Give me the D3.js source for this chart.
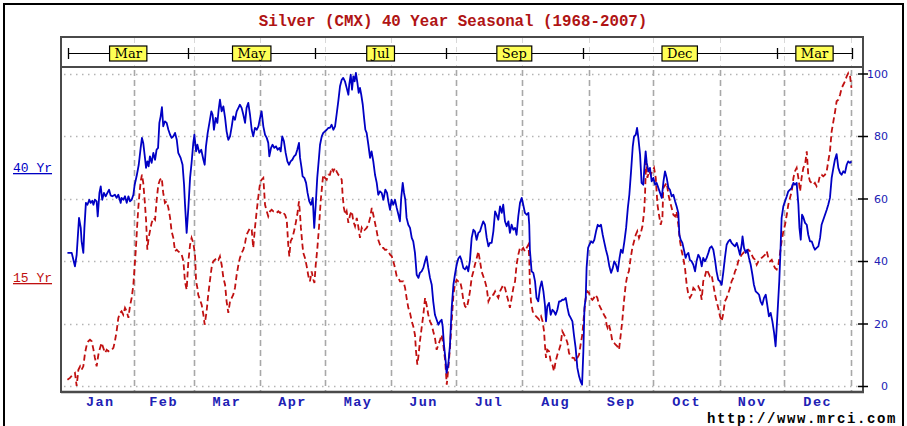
<!DOCTYPE html>
<html>
<head>
<meta charset="utf-8">
<script src="https://cdn.jsdelivr.net/npm/d3@7"></script>
<style>
  html, body { margin: 0; padding: 0; background: #fff; }
  svg { display: block; }
</style>
</head>
<body>
<svg id="chart" width="907" height="426"></svg>
<script>
// ---- data -------------------------------------------------------------
const chartTitle = "Silver (CMX) 40 Year Seasonal (1968-2007)";
const sourceText = "http://www.mrci.com";
const seriesNames = ["40 Yr", "15 Yr"];
const yTicks = [0, 20, 40, 60, 80, 100];
const monthNames = ["Jan","Feb","Mar","Apr","May","Jun","Jul","Aug","Sep","Oct","Nov","Dec"];

// contract periods shown in the strip above the plot: boundaries (day of year) and labels
const contractBounds = [0.5, 56.5, 115.5, 176.5, 240, 330.5, 365.5];
const contractLabels = ["Mar", "May", "Jul", "Sep", "Dec", "Mar"];

// 40 year seasonal index: [day of year, index value]
const seasonal40 = [
[0.2,42.6],[2.2,42.6],[3.7,38.3],[4.5,42.0],[5.6,53.8],[6.4,50.6],[6.8,46.3],[7.6,42.6],[8.1,50.6],[8.8,58.6],[9.5,58.0],[10.4,59.6],[11.0,58.6],[11.8,59.3],[12.3,58.0],[13.0,59.6],[13.8,59.1],[14.3,54.3],[15.1,61.8],[15.7,63.9],[16.4,59.6],[17.2,61.8],[18.0,60.7],[18.8,61.8],[19.6,62.8],[20.3,61.0],[21.1,60.7],[22.3,61.2],[23.1,60.2],[23.9,61.2],[25.0,58.6],[25.4,60.2],[26.2,59.6],[27.0,60.7],[27.8,58.6],[28.6,60.7],[29.3,59.1],[30.1,59.6],[30.9,61.2],[31.5,64.4],[32.4,67.1],[33.4,70.8],[34.3,76.2],[34.9,79.4],[35.5,77.8],[36.3,73.0],[36.8,69.8],[37.4,71.9],[38.0,70.3],[38.6,73.5],[39.4,71.4],[40.2,74.6],[41.0,72.4],[41.7,75.6],[42.4,76.2],[43.0,84.2],[43.6,86.3],[44.2,89.2],[44.8,83.1],[45.6,84.7],[46.4,84.2],[47.2,82.0],[48.0,80.4],[48.7,79.4],[49.5,79.9],[50.3,81.0],[51.1,78.8],[51.8,74.6],[52.9,73.0],[53.8,70.8],[54.5,64.4],[54.9,58.6],[55.7,49.0],[56.5,57.0],[57.3,66.6],[58.0,71.4],[58.8,77.8],[59.3,80.4],[60.1,75.1],[60.7,77.2],[61.6,74.6],[62.5,75.6],[63.5,72.4],[64.1,70.8],[64.7,76.7],[65.5,81.0],[66.3,84.2],[67.2,87.9],[67.8,86.8],[68.4,82.0],[69.2,85.8],[70.0,84.2],[70.6,88.4],[71.2,91.6],[72.0,87.9],[72.8,89.5],[73.6,85.8],[74.3,81.5],[75.1,78.8],[75.9,79.9],[76.7,83.1],[77.4,86.3],[78.2,85.2],[79.0,87.9],[79.8,89.0],[80.5,90.0],[81.3,89.0],[82.1,86.8],[82.9,84.2],[83.6,89.0],[84.4,90.6],[85.2,86.8],[86.0,82.0],[86.7,79.9],[87.5,82.6],[88.3,82.0],[89.1,83.1],[89.9,85.8],
[90.6,87.9],[91.4,83.1],[92.2,80.4],[93.0,79.4],[93.7,77.8],[94.2,73.5],[95.0,76.2],[95.7,77.2],[96.5,76.2],[97.3,76.7],[98.1,75.6],[98.9,76.2],[99.5,75.1],[100.2,79.9],[101.0,78.3],[101.8,74.6],[102.6,71.9],[103.4,70.8],[104.1,71.9],[104.9,72.4],[105.7,73.5],[106.5,74.0],[107.2,75.6],[108.0,77.8],[108.5,73.0],[109.2,69.8],[109.7,67.1],[110.5,66.6],[111.3,65.0],[112.0,61.8],[112.8,59.1],[113.6,58.0],[114.4,60.2],[115.1,50.6],[115.8,58.0],[116.5,66.6],[117.3,73.0],[117.8,77.2],[118.6,79.9],[119.3,81.0],[120.1,81.5],[120.9,82.0],[121.7,82.6],[122.4,82.6],[123.2,83.6],[124.0,82.0],[124.8,83.1],[125.5,86.8],[126.3,91.1],[127.1,95.9],[127.9,98.0],[128.6,98.6],[129.4,97.5],[130.2,95.4],[131.0,93.2],[131.4,96.4],[132.1,99.6],[132.7,94.8],[133.3,99.1],[133.9,97.5],[134.5,100.2],[135.2,97.0],[135.8,93.8],[136.4,95.4],[137.0,93.2],[137.7,90.0],[138.3,85.8],[138.9,82.0],[139.5,81.0],[140.3,77.2],[141.1,73.0],[141.8,75.1],[142.6,71.9],[143.4,67.6],[144.2,65.0],[144.9,61.2],[145.7,62.3],[146.5,61.8],[147.3,59.6],[148.2,62.8],[149.0,61.8],[149.6,59.1],[150.4,56.4],[151.1,59.6],[151.9,58.0],[152.7,59.6],[153.5,57.0],[154.3,54.8],[155.0,52.7],[155.6,60.2],[156.3,65.0],[156.9,61.8],[157.5,59.6],[158.1,53.8],[158.9,51.6],[159.7,50.6],[160.5,47.4],[161.2,46.3],[162.0,42.6],[162.8,35.6],[163.6,34.6],[164.3,36.2],[165.1,36.7],[165.9,37.8],[166.7,39.9],[167.4,41.5],[168.2,37.8],[169.0,34.6],[169.8,32.4],[170.5,27.1],[171.3,22.8],[172.1,21.2],[172.9,19.6],[173.7,20.7],[174.4,21.2],[174.9,19.1],[175.5,13.2],[176.3,7.9],[176.7,4.2],[177.5,6.8],[178.3,13.2],[179.1,25.0],[179.9,32.4],[180.6,35.6],[181.4,38.8],[182.2,40.8],[183.0,41.5],[183.7,40.2],[184.5,37.8],
[185.3,37.3],[186.1,38.3],[186.8,36.7],[187.6,40.3],[188.4,47.4],[189.2,50.0],[189.9,49.5],[190.7,46.8],[191.5,49.0],[192.3,49.5],[193.0,51.1],[193.8,52.7],[194.6,51.6],[195.4,47.4],[196.2,44.7],[196.9,45.8],[197.7,45.8],[198.5,49.5],[199.3,55.9],[200.0,54.8],[200.8,53.2],[201.6,57.5],[202.4,55.4],[203.1,58.0],[203.9,52.7],[204.7,51.1],[205.5,52.7],[206.2,49.0],[207.0,51.6],[207.8,50.0],[208.6,50.6],[209.3,48.4],[210.1,54.3],[210.9,58.6],[211.7,60.2],[212.4,58.0],[213.2,55.4],[214.0,54.8],[214.8,55.4],[215.2,51.6],[215.5,43.6],[216.3,36.7],[217.1,36.2],[217.9,33.5],[218.6,28.2],[219.4,27.1],[220.2,31.4],[221.0,33.5],[221.8,30.3],[222.5,26.0],[223.0,20.7],[223.6,25.5],[224.4,26.6],[225.2,22.8],[226.0,24.4],[226.7,23.9],[227.5,22.8],[228.3,24.4],[229.1,27.1],[229.8,27.1],[230.6,27.6],[231.4,27.6],[232.2,28.2],[233.0,25.0],[233.7,22.8],[234.5,21.8],[235.3,20.7],[236.0,16.4],[236.8,12.2],[237.6,5.8],[238.4,3.1],[239.1,1.5],[239.8,0.4],[240.4,11.1],[240.9,25.0],[241.5,28.2],[241.9,37.8],[242.6,44.2],[243.2,45.2],[244.0,46.3],[244.8,45.8],[245.5,46.8],[246.3,49.5],[247.1,51.6],[247.8,51.1],[248.6,51.6],[249.4,48.4],[250.2,45.8],[250.9,43.6],[251.7,41.5],[252.5,38.3],[253.3,36.2],[254.1,37.8],[254.8,39.9],[255.6,38.8],[256.4,36.7],[257.2,40.8],[257.9,43.6],[258.7,42.6],[259.5,46.3],[260.3,50.6],[261.1,56.9],[261.8,61.2],[262.6,68.7],[263.4,76.7],[264.0,79.9],[264.8,80.4],[265.4,82.6],[266.0,79.4],[266.8,74.0],[267.5,65.0],[268.3,64.4],[268.8,69.8],[269.4,75.1],[269.9,71.4],[270.7,68.7],[271.4,69.8],[272.2,65.5],[273.0,66.6],[273.8,64.4],[274.5,65.0],[275.3,63.4],[276.1,61.8],[276.9,60.2],[277.7,65.5],
[278.4,68.7],[279.2,66.6],[280.0,63.4],[280.7,62.8],[281.5,60.7],[282.3,61.2],[283.1,59.1],[283.8,57.5],[284.6,55.4],[285.1,48.4],[285.7,46.8],[286.5,45.8],[287.2,43.6],[288.0,41.0],[288.5,42.0],[289.3,42.6],[290.0,40.3],[290.8,39.9],[291.6,38.8],[292.4,36.7],[293.1,39.9],[293.9,42.0],[294.7,41.0],[295.5,38.3],[296.2,41.0],[297.0,39.9],[297.8,41.0],[298.6,42.6],[299.3,44.2],[300.1,44.7],[300.9,43.6],[301.7,40.3],[302.4,36.7],[303.2,34.0],[304.0,33.5],[304.8,32.4],[305.6,36.7],[306.3,41.0],[307.1,45.2],[307.9,46.3],[308.7,46.8],[309.4,45.8],[310.2,45.2],[311.0,44.7],[311.8,45.8],[312.5,44.2],[313.3,42.0],[314.1,45.2],[314.5,47.9],[315.2,44.2],[316.0,42.6],[316.7,43.6],[317.5,41.0],[318.3,38.8],[319.1,35.6],[319.8,32.4],[320.6,30.3],[321.4,29.8],[322.2,29.2],[322.9,27.1],[323.7,26.0],[324.5,28.2],[325.3,29.2],[326.0,26.0],[326.8,22.3],[327.6,23.4],[328.4,20.7],[329.2,17.0],[329.9,12.7],[330.4,18.6],[331.0,26.0],[331.6,33.5],[332.1,42.0],[332.7,53.8],[333.5,57.5],[334.3,59.1],[335.1,60.7],[335.8,62.3],[336.6,62.8],[337.4,63.4],[338.2,65.0],[338.9,64.4],[339.7,65.0],[340.5,58.0],[341.0,50.6],[341.6,46.8],[342.2,54.8],[342.8,54.0],[343.6,52.2],[344.4,51.6],[345.1,48.4],[345.9,46.3],[346.7,46.3],[347.5,44.7],[348.2,43.6],[349.0,44.2],[349.8,44.7],[350.6,47.4],[351.3,51.6],[352.1,53.2],[352.9,54.8],[353.7,56.4],[354.4,58.0],[355.2,60.2],[356.0,66.6],[356.8,69.8],[357.5,72.4],[358.3,74.2],[359.1,69.8],[359.9,68.2],[360.6,67.6],[361.4,68.7],[362.2,68.2],[363.0,70.8],[363.7,71.9],[364.5,71.4],[365.2,71.9]
];

// 15 year seasonal index: [day of year, index value]
const seasonal15 = [
[0.2,2.0],[1.4,2.6],[2.6,3.6],[3.7,4.2],[4.5,0.0],[5.3,5.2],[6.1,6.3],[6.8,5.2],[7.6,6.3],[8.4,10.6],[9.2,13.2],[9.9,14.3],[10.7,14.8],[11.5,14.3],[12.3,11.7],[13.0,9.0],[13.8,6.3],[14.6,10.0],[15.4,12.2],[16.1,13.8],[16.9,12.2],[17.7,10.6],[18.5,11.6],[19.2,11.1],[20.0,11.6],[20.8,11.6],[21.6,12.2],[22.3,14.3],[23.1,17.5],[23.9,21.8],[24.7,23.4],[25.4,23.9],[26.2,22.8],[27.0,25.0],[27.8,23.9],[28.6,21.8],[29.3,25.5],[30.1,28.2],[30.9,32.4],[31.5,38.3],[32.1,44.2],[32.7,51.6],[33.2,57.0],[33.7,61.2],[34.3,65.5],[34.9,67.6],[35.5,65.0],[36.2,59.1],[36.8,53.2],[37.4,43.6],[38.0,47.4],[38.6,49.5],[39.4,52.2],[40.2,53.8],[41.0,53.2],[41.7,59.1],[42.5,64.4],[43.3,66.0],[44.1,66.6],[44.8,61.8],[45.6,58.6],[46.4,59.1],[47.2,57.0],[48.0,53.8],[48.7,49.5],[49.5,47.4],[50.3,43.1],[51.1,43.6],[51.8,43.1],[52.6,42.6],[53.4,42.0],[54.2,39.9],[54.9,33.5],[55.7,30.8],[56.5,39.9],[57.3,45.2],[58.0,47.4],[58.8,45.8],[59.6,42.0],[60.1,33.5],[60.7,31.4],[61.1,29.2],[61.9,27.6],[62.7,26.0],[63.5,22.8],[64.1,19.6],[65.0,23.9],[65.6,28.2],[66.3,32.4],[66.9,35.6],[67.5,38.8],[68.1,39.9],[68.9,40.4],[69.7,41.0],[70.5,40.4],[71.2,41.5],[72.0,38.8],[72.8,34.6],[73.6,32.4],[74.3,27.1],[75.1,23.4],[75.9,27.1],[76.7,28.2],[77.4,29.2],[78.2,31.4],[79.0,35.6],[79.8,38.8],[80.5,41.0],[81.3,42.6],[82.1,43.6],[82.9,45.8],[83.6,48.4],[84.4,49.5],[85.2,50.6],[86.0,50.0],[86.7,44.2],[87.5,50.6],[88.3,55.9],[89.1,60.7],[89.9,65.0],[90.6,66.0],[91.4,66.6],
[92.2,58.0],[93.0,55.9],[93.7,54.3],[94.5,55.9],[95.3,56.4],[96.1,55.9],[96.8,55.9],[97.6,55.4],[98.4,55.9],[99.2,55.4],[99.9,55.9],[100.7,55.4],[101.5,54.8],[102.3,53.2],[103.0,45.2],[103.5,41.5],[104.1,46.3],[104.9,47.4],[105.7,49.5],[106.5,52.2],[107.2,54.8],[108.0,59.1],[108.5,54.8],[108.9,50.6],[109.6,45.2],[110.0,42.6],[110.8,41.0],[111.6,38.3],[112.4,35.1],[113.1,33.5],[113.9,36.7],[114.7,34.0],[115.2,33.0],[115.8,38.8],[116.5,43.6],[117.3,50.6],[118.1,59.1],[118.9,65.0],[119.3,67.6],[120.1,66.6],[120.9,66.0],[121.7,67.6],[122.4,67.6],[123.2,69.8],[124.0,68.7],[124.8,69.8],[125.5,68.7],[126.3,67.6],[127.1,67.1],[127.9,66.0],[128.3,61.2],[128.9,57.0],[129.6,54.8],[130.2,55.9],[131.0,52.2],[131.8,54.8],[132.6,55.9],[133.3,52.7],[134.1,51.1],[134.9,53.8],[135.6,51.1],[136.4,47.4],[137.2,50.6],[138.0,49.5],[138.7,50.0],[139.5,50.6],[140.3,51.6],[141.1,53.8],[141.9,57.0],[142.6,54.8],[143.4,52.2],[144.2,49.5],[144.9,46.8],[145.7,45.2],[146.5,44.2],[147.3,44.2],[148.0,43.6],[148.8,43.6],[149.6,43.1],[150.4,42.0],[151.2,41.5],[151.9,39.9],[152.7,37.8],[153.5,35.1],[154.3,34.6],[155.0,33.5],[155.8,33.5],[156.6,33.5],[157.4,31.4],[158.1,28.2],[158.9,25.0],[159.7,23.4],[160.5,20.7],[161.2,19.1],[162.0,16.4],[162.5,11.1],[163.1,6.8],[163.7,10.0],[164.3,14.3],[165.1,18.6],[165.9,22.8],[166.7,28.2],[167.4,26.0],[168.2,22.8],[169.0,20.7],[169.8,19.6],[170.5,17.5],[171.3,15.4],[172.1,11.6],[172.9,13.2],[173.7,14.8],[174.4,16.4],[175.2,13.2],[176.1,7.9],[176.8,0.4],[177.6,6.3],[178.3,12.2],[179.1,20.7],[179.9,29.2],[180.6,32.4],[181.4,34.0],[182.2,33.5],[183.0,33.5],[183.7,31.4],[184.5,27.6],
[185.3,25.5],[186.1,25.0],[186.8,27.1],[187.6,30.3],[188.4,34.6],[189.2,36.7],[189.9,38.8],[190.7,40.8],[191.5,43.1],[192.3,39.9],[193.0,36.7],[193.8,35.1],[194.6,33.5],[195.4,31.4],[196.2,27.1],[196.9,28.2],[197.7,29.2],[198.5,29.2],[199.3,30.3],[200.0,29.2],[200.8,28.2],[201.6,30.3],[202.4,31.4],[203.1,32.4],[203.9,31.4],[204.7,29.2],[205.5,27.1],[206.2,25.0],[207.0,28.2],[207.8,31.4],[208.6,33.5],[209.3,38.8],[210.1,42.0],[210.9,44.2],[211.7,43.6],[212.4,44.2],[213.2,43.1],[214.0,44.2],[214.8,45.2],[215.2,41.0],[215.5,32.4],[216.0,27.1],[216.8,23.9],[217.6,22.8],[218.4,22.3],[219.1,21.8],[219.9,21.2],[220.7,22.3],[221.4,20.7],[222.1,17.5],[222.5,13.2],[223.0,9.0],[223.6,11.6],[224.4,11.1],[225.2,7.9],[226.0,6.8],[226.7,4.7],[227.5,7.9],[228.3,10.0],[229.1,11.6],[229.8,13.2],[230.6,17.5],[231.4,16.4],[232.2,15.4],[233.0,13.8],[233.7,10.6],[234.5,9.5],[235.3,9.0],[236.0,9.0],[236.8,7.9],[237.6,9.0],[238.4,10.0],[239.1,13.2],[239.9,16.4],[240.7,22.8],[241.5,28.2],[242.2,30.3],[243.0,29.8],[243.8,28.2],[244.6,27.6],[245.3,28.2],[246.1,29.2],[246.9,28.2],[247.7,26.0],[248.4,25.0],[249.2,23.9],[250.0,22.8],[250.8,21.8],[251.2,19.6],[251.7,18.6],[252.3,19.6],[253.1,17.5],[253.9,14.3],[254.7,13.8],[255.4,13.2],[256.2,12.7],[257.0,11.6],[257.8,16.4],[258.5,20.7],[259.3,27.1],[260.1,32.4],[260.9,35.6],[261.6,36.7],[262.4,40.8],[263.2,44.2],[264.0,46.3],[264.8,48.4],[265.5,49.5],[266.3,47.4],[267.1,48.9],[267.9,51.1],[268.7,55.9],[269.1,61.2],[269.6,72.0],[270.2,66.6],[271.0,68.7],[271.8,67.6],[272.5,68.7],[273.3,69.8],[274.1,66.6],[274.9,58.0],[275.6,54.8],[276.4,51.6],[277.2,53.8],
[277.6,63.4],[279.2,65.0],[280.0,61.2],[280.7,59.1],[281.5,57.0],[282.3,54.8],[283.1,54.3],[283.8,55.9],[284.6,51.6],[285.4,46.3],[286.2,43.1],[286.9,41.0],[287.7,37.8],[288.5,32.4],[289.3,29.2],[290.0,28.2],[290.8,29.2],[291.6,31.4],[292.4,30.8],[293.1,31.4],[293.9,31.9],[294.7,30.8],[295.5,27.6],[296.2,33.5],[297.0,35.1],[297.8,37.3],[298.6,36.2],[299.3,35.1],[300.1,35.6],[300.9,32.4],[301.7,29.2],[302.4,27.1],[303.2,25.0],[304.0,22.3],[304.8,20.7],[305.6,23.4],[306.3,27.1],[307.1,28.2],[307.9,29.8],[308.7,31.4],[309.4,33.5],[310.2,34.6],[311.0,36.7],[311.8,37.8],[312.5,39.9],[313.3,41.0],[314.1,42.0],[314.9,42.6],[315.7,43.6],[316.4,43.1],[317.2,43.6],[318.0,43.1],[318.8,42.0],[319.5,41.0],[320.3,40.4],[321.1,38.8],[321.9,39.9],[322.6,40.4],[323.4,41.0],[324.2,41.5],[325.0,42.0],[325.8,43.1],[326.5,41.0],[327.3,39.9],[328.1,40.4],[328.9,38.8],[329.6,37.8],[330.4,37.3],[331.2,38.8],[332.0,42.6],[332.7,46.3],[333.5,49.5],[334.3,51.6],[335.1,54.8],[335.8,58.0],[336.6,60.2],[337.4,62.3],[338.2,66.6],[338.9,68.7],[339.7,69.8],[340.5,66.6],[341.3,62.3],[342.0,66.6],[342.8,69.8],[343.6,70.8],[344.4,75.1],[345.1,67.6],[345.9,65.5],[346.7,65.0],[347.5,64.4],[348.2,65.0],[349.0,63.9],[349.8,65.0],[350.6,67.6],[351.3,67.6],[352.1,67.1],[352.9,67.6],[353.7,68.7],[354.4,71.9],[355.2,75.1],[356.0,81.5],[356.8,84.7],[357.6,87.9],[358.3,91.1],[359.1,91.6],[359.9,93.2],[360.7,95.4],[361.4,96.4],[362.2,97.5],[363.0,99.1],[363.8,100.2],[364.5,99.6],[365.2,95.4]
];

// ---- layout -------------------------------------------------------------
const plot = { left: 61, right: 863, top: 67, bottom: 392 };
const strip = { top: 37, bottom: 67, lineY: 53.5 };
const BLUE = "#0000c4", RED = "#c01010", TEXT_BLUE = "#2020b4", TITLE_RED = "#b01414";
const FRAME = "#4a4a4a";

const svg = d3.select("#chart");

const yearStart = new Date(Date.UTC(2007, 0, 1));
const yearEnd = new Date(Date.UTC(2008, 0, 1));
const toDate = day => new Date(yearStart.getTime() + day * 864e5);

const x = d3.scaleUtc().domain([yearStart, yearEnd]).range([67, 851]);
const y = d3.scaleLinear().domain([0, 100]).range([386, 73.5]);

// outer frame
svg.append("rect").attr("x", 4).attr("y", 4).attr("width", 899).attr("height", 440)
  .attr("fill", "#fff").attr("stroke", "#000").attr("stroke-width", 2);

// title
svg.append("text").attr("x", 453).attr("y", 25.5).attr("text-anchor", "middle")
  .attr("font-family", "Liberation Mono, DejaVu Sans Mono, monospace").attr("font-weight", "bold")
  .attr("font-size", 15.8).attr("fill", TITLE_RED).text(chartTitle);

// month gridlines (dashed) running through the strip and the plot
const monthStarts = d3.utcMonth.range(d3.utcMonth.offset(yearStart, 1), d3.utcDay.offset(yearEnd, 1));
svg.append("g").selectAll("line").data(monthStarts).join("line")
  .attr("x1", d => Math.round(x(d)) + 0.5).attr("x2", d => Math.round(x(d)) + 0.5)
  .attr("y1", strip.top + 1).attr("y2", strip.bottom - 1)
  .attr("stroke", "#d8d8d8").attr("stroke-width", 1).attr("stroke-dasharray", "5,4");
svg.append("g").selectAll("line").data(monthStarts).join("line")
  .attr("x1", d => Math.round(x(d)) + 0.5).attr("x2", d => Math.round(x(d)) + 0.5)
  .attr("y1", plot.top + 3).attr("y2", plot.bottom)
  .attr("stroke", "#a8a8a8").attr("stroke-width", 1.6).attr("stroke-dasharray", "6,4");

// horizontal dotted gridlines
svg.append("g").selectAll("line").data(yTicks).join("line")
  .attr("x1", plot.left + 3).attr("x2", plot.right - 2)
  .attr("y1", d => Math.round(y(d)) + 0.5).attr("y2", d => Math.round(y(d)) + 0.5)
  .attr("stroke", "#b4b4b4").attr("stroke-width", 1.3).attr("stroke-dasharray", "1.5,4.5");

// contract strip
svg.append("rect").attr("x", plot.left).attr("y", strip.top)
  .attr("width", plot.right - plot.left).attr("height", strip.bottom - strip.top)
  .attr("fill", "none").attr("stroke", FRAME).attr("stroke-width", 2);
svg.append("line").attr("x1", x(toDate(contractBounds[0]))).attr("x2", x(toDate(contractBounds[contractBounds.length - 1])))
  .attr("y1", strip.lineY).attr("y2", strip.lineY).attr("stroke", "#000").attr("stroke-width", 1.2);
svg.append("g").selectAll("line").data(contractBounds).join("line")
  .attr("x1", d => Math.round(x(toDate(d))) + 0.5).attr("x2", d => Math.round(x(toDate(d))) + 0.5)
  .attr("y1", strip.lineY - 5.5).attr("y2", strip.lineY + 5.5)
  .attr("stroke", "#000").attr("stroke-width", 1.3);

const boxes = svg.append("g").selectAll("g")
  .data(contractLabels.map((lab, i) => ({ lab, mid: (contractBounds[i] + contractBounds[i + 1]) / 2 })))
  .join("g").attr("transform", d => `translate(${x(toDate(d.mid))},${strip.lineY})`);
boxes.append("rect").attr("class", "cbox");
boxes.append("text").attr("text-anchor", "middle").attr("y", 4.8)
  .attr("font-family", "DejaVu Serif, Liberation Serif, serif").attr("font-size", 13)
  .attr("fill", "#000").text(d => d.lab);
boxes.each(function () {
  const g = d3.select(this);
  const w = g.select("text").node().getComputedTextLength() + 10;
  g.select("rect").attr("x", -w / 2).attr("y", -7.5).attr("width", w).attr("height", 15)
    .attr("fill", "#ffff55").attr("stroke", "#000").attr("stroke-width", 1.2);
});

// series lines
const line = d3.line().x(d => x(toDate(d[0]))).y(d => y(d[1]));
svg.append("path").datum(seasonal15).attr("d", line)
  .attr("fill", "none").attr("stroke", RED).attr("stroke-width", 1.8)
  .attr("stroke-dasharray", "6,3.5");
svg.append("path").datum(seasonal40).attr("d", line)
  .attr("fill", "none").attr("stroke", BLUE).attr("stroke-width", 1.8)
  .attr("stroke-linejoin", "round");

// plot frame: left, bottom and right axis line
svg.append("line").attr("x1", plot.left).attr("x2", plot.left).attr("y1", plot.top).attr("y2", plot.bottom + 1)
  .attr("stroke", FRAME).attr("stroke-width", 2);
svg.append("line").attr("x1", plot.left).attr("x2", plot.right + 1).attr("y1", plot.bottom).attr("y2", plot.bottom)
  .attr("stroke", FRAME).attr("stroke-width", 2.5);
svg.append("line").attr("x1", plot.right).attr("x2", plot.right).attr("y1", plot.top).attr("y2", plot.bottom + 1)
  .attr("stroke", FRAME).attr("stroke-width", 2);

// right value axis
const yAxis = svg.append("g").attr("transform", `translate(${plot.right},0)`)
  .call(d3.axisRight(y).tickValues(yTicks).tickSize(5).tickPadding(0));
yAxis.select(".domain").remove();
yAxis.selectAll(".tick line").attr("x1", -5).attr("x2", 5).attr("stroke", "#000").attr("stroke-width", 1.5);
yAxis.selectAll(".tick text").attr("x", 25).attr("text-anchor", "end")
  .attr("font-family", "DejaVu Sans, Verdana, sans-serif").attr("font-size", 11)
  .attr("fill", TEXT_BLUE);

// month labels centred in each month
svg.append("g").selectAll("text").data(monthNames).join("text")
  .attr("x", (d, i) => {
    const a = new Date(Date.UTC(2007, i, 1)), b = new Date(Date.UTC(2007, i + 1, 1));
    return (x(a) + x(b)) / 2;
  })
  .attr("y", 406).attr("text-anchor", "middle")
  .attr("font-family", "Liberation Mono, DejaVu Sans Mono, monospace").attr("font-weight", "bold")
  .attr("font-size", 13.5).attr("letter-spacing", 1.5).attr("fill", TEXT_BLUE).text(d => d);

// series labels on the left
svg.append("text").attr("x", 13).attr("y", 172)
  .attr("font-family", "Liberation Mono, monospace").attr("font-size", 13)
  .attr("text-decoration", "underline").attr("fill", BLUE).text(seriesNames[0]);
svg.append("text").attr("x", 13).attr("y", 282)
  .attr("font-family", "Liberation Mono, monospace").attr("font-size", 13)
  .attr("text-decoration", "underline").attr("fill", RED).text(seriesNames[1]);

// source
svg.append("text").attr("x", 897).attr("y", 423).attr("text-anchor", "end")
  .attr("font-family", "Liberation Mono, DejaVu Sans Mono, monospace").attr("font-weight", "bold")
  .attr("font-size", 14).attr("letter-spacing", 1.6).attr("fill", "#000").text(sourceText);
</script>
</body>
</html>
